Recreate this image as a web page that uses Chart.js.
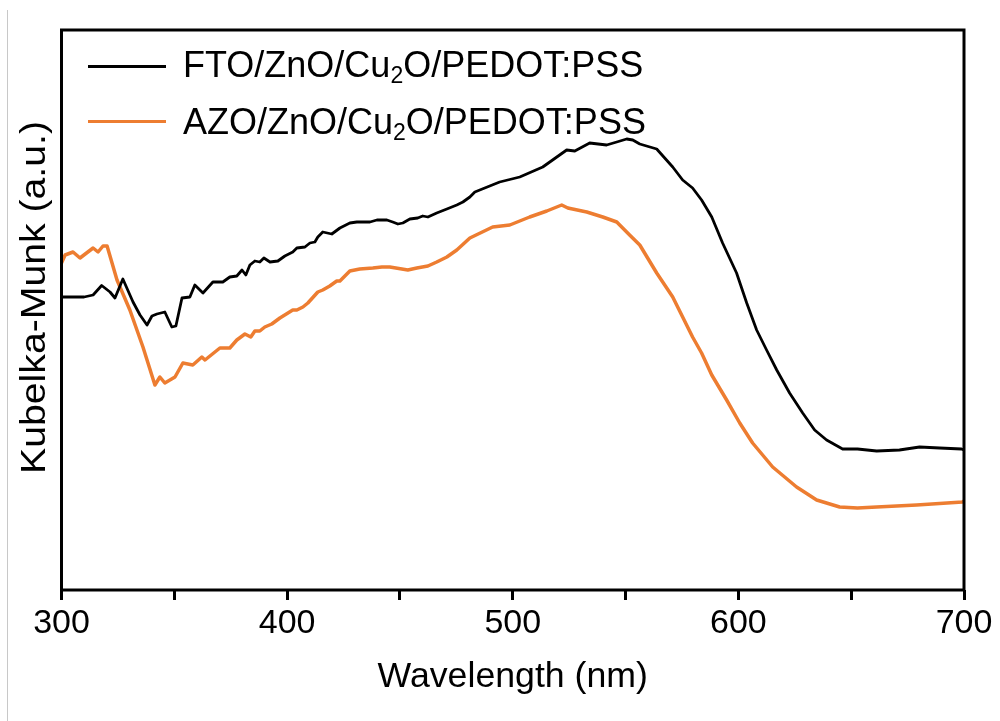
<!DOCTYPE html>
<html lang="en">
<head>
  <meta charset="UTF-8" />
  <title>Kubelka-Munk</title>
  <script src="https://cdn.jsdelivr.net/npm/chart.js"></script>
  <style>
    body { margin: 0; background: #fff; }
    #wrap { position: relative; width: 1000px; height: 721px; }
    #edge { position: absolute; left: 7px; top: 10px; bottom: 0; border-left: 1px solid #c8c8c8; }
    .leg { position: absolute; font: 36px "Liberation Sans", Arial, sans-serif; line-height: 40px; color: #000; white-space: nowrap; }
    .leg sub { font-size: 23px; vertical-align: -6px; line-height: 0; }
    .sw { position: absolute; height: 3px; width: 78px; left: 88px; }
  </style>
</head>
<body>
  <div id="wrap">
    <div id="edge"></div>
    <canvas id="chart" width="1000" height="721"></canvas>
    <div id="legend"></div>
  </div>

  <script>
    // wavelength (nm) and Kubelka-Munk (a.u.)
    const seriesLabels = ['FTO/ZnO/Cu₂O/PEDOT:PSS', 'AZO/ZnO/Cu₂O/PEDOT:PSS'];
    const seriesColors = ['#000000', '#ED7D31'];
    const yTitle = 'Kubelka-Munk (a.u.)';
    const xTitle = 'Wavelength (nm)';

    const wlFTO = [300, 305.1, 310, 314, 317.8, 321.5, 323.7, 327.2, 331.7, 334.8, 337.9, 340.1, 342.3, 345.8,
      348.9, 350.7, 353.4, 356.9, 359.1, 362.7, 367.1, 371.5, 374.6, 377.7, 380, 381.7, 383.5, 385.7, 387.9,
      389.7, 392.4, 395.9, 399, 402.5, 404.3, 407.9, 410.1, 412.3, 413.6, 415.8, 419.8, 423.4, 427.8, 430.9,
      436.7, 439.8, 444.2, 446.8, 449.1, 451.3, 454.4, 457.9, 460.1, 462.4, 466.3, 470.8, 475.2, 477.9, 481,
      483.2, 494.2, 503.1, 513.3, 523.9, 527.5, 534.1, 541.6, 546.1, 550.5, 553.2, 556.3, 563.8, 570.9, 575.3,
      579.7, 583.7, 588.2, 593, 599.2, 603.7, 608.1, 612.5, 617, 622.7, 628.5, 633.8, 639.1, 646.2, 652.8,
      661.3, 671.4, 680.3, 689.2, 698.9, 700];
    const kmFTO = [2.93, 2.93, 2.93, 2.95, 3.045, 2.98, 2.92, 3.11, 2.88, 2.75, 2.65, 2.74, 2.76, 2.78,
      2.63, 2.64, 2.92, 2.93, 3.05, 2.97, 3.08, 3.08, 3.13, 3.14, 3.20, 3.15, 3.25, 3.29, 3.28,
      3.32, 3.28, 3.29, 3.34, 3.38, 3.42, 3.43, 3.47, 3.48, 3.53, 3.58, 3.56, 3.62, 3.67, 3.68,
      3.68, 3.70, 3.70, 3.68, 3.66, 3.67, 3.71, 3.72, 3.74, 3.73, 3.77, 3.81, 3.85, 3.88, 3.93,
      3.98, 4.08, 4.13, 4.23, 4.40, 4.39, 4.47, 4.45, 4.48, 4.51, 4.50, 4.46, 4.41, 4.23, 4.10,
      4.02, 3.90, 3.73, 3.47, 3.17, 2.87, 2.60, 2.40, 2.20, 1.97, 1.77, 1.60, 1.50, 1.41, 1.41,
      1.39, 1.40, 1.43, 1.42, 1.41, 1.40];

    const wlAZO = [300, 301.6, 305.1, 308.2, 314, 316.2, 318.4, 320.2, 324.6, 330.3, 336.1, 341.4, 343.6, 345.8,
      350.3, 353.8, 358.2, 362.2, 363.6, 370.2, 374.6, 377.7, 381.3, 383.9, 385.7, 387.9, 390.1, 393.2, 396.8,
      402.5, 404.3, 407, 409.2, 413.6, 415.8, 418.9, 422, 423.4, 427.8, 432.2, 438, 442, 445.5, 453.5, 457.5,
      462.4, 466.3, 470.8, 475.2, 481, 491.1, 498.7, 507.5, 515.1, 521.7, 524.4, 532.8, 539.9, 546.1, 551.8,
      556.3, 563.8, 570.9, 575.3, 579.7, 583.7, 588.2, 594.8, 600.6, 606.3, 615.2, 625.8, 634.7, 644.9, 652.8,
      661.3, 679, 699.3, 700];
    const kmAZO = [3.27, 3.35, 3.38, 3.32, 3.42, 3.38, 3.44, 3.44, 3.10, 2.80, 2.43, 2.05, 2.13, 2.07,
      2.13, 2.27, 2.25, 2.33, 2.30, 2.42, 2.42, 2.50, 2.56, 2.53, 2.59, 2.59, 2.63, 2.66, 2.72,
      2.80, 2.80, 2.83, 2.87, 2.98, 3.00, 3.04, 3.09, 3.09, 3.19, 3.21, 3.22, 3.23, 3.23, 3.20, 3.22,
      3.24, 3.28, 3.33, 3.40, 3.52, 3.63, 3.65, 3.73, 3.79, 3.85, 3.82, 3.78, 3.73, 3.68, 3.55,
      3.45, 3.17, 2.93, 2.73, 2.53, 2.37, 2.15, 1.90, 1.67, 1.47, 1.23, 1.03, 0.90, 0.83, 0.82,
      0.83, 0.85, 0.88, 0.89];

    const xTicks = [300, 400, 500, 600, 700];

    const FONT = '"Liberation Sans", Arial, sans-serif';

    function toPoints(xs, ys) {
      return xs.map((x, i) => ({ x: x, y: ys[i] }));
    }

    // legend inside the plot, built from the labels
    const legendEl = document.getElementById('legend');
    legendEl.innerHTML = seriesLabels.map((lab, i) => {
      const lineTop = i === 0 ? 65 : 120;
      const textTop = i === 0 ? 45 : 102;
      return `<div class="sw" style="top:${lineTop}px;background:${seriesColors[i]}"></div>` +
        `<div class="leg" style="left:183px;top:${textTop}px">${lab.replace('₂', '<sub>2</sub>')}</div>`;
    }).join('');

    // box round the plot + y title (it is a little stretched in the original)
    const framePlugin = {
      id: 'frame',
      afterDraw(chart) {
        const { ctx, chartArea: a } = chart;
        ctx.save();
        ctx.strokeStyle = '#000';
        ctx.lineWidth = 3;
        ctx.strokeRect(a.left, a.top, a.right - a.left, a.bottom - a.top);
        ctx.translate(45, 297.5);
        ctx.rotate(-Math.PI / 2);
        ctx.scale(1.12, 1);
        ctx.fillStyle = '#000';
        ctx.font = '35px ' + FONT;
        ctx.textAlign = 'center';
        ctx.textBaseline = 'alphabetic';
        ctx.fillText(yTitle, 0, 0);
        ctx.restore();
      }
    };

    new Chart(document.getElementById('chart'), {
      type: 'line',
      data: {
        datasets: [
          { label: seriesLabels[0], data: toPoints(wlFTO, kmFTO), borderColor: seriesColors[0], borderWidth: 2.8 },
          { label: seriesLabels[1], data: toPoints(wlAZO, kmAZO), borderColor: seriesColors[1], borderWidth: 3.5 }
        ]
      },
      options: {
        responsive: false,
        animation: false,
        layout: { padding: { left: 0, top: 30, right: 36, bottom: 0 } },
        elements: {
          point: { radius: 0 },
          line: { tension: 0, borderJoinStyle: 'round', fill: false }
        },
        plugins: { legend: { display: false }, tooltip: { enabled: false } },
        scales: {
          x: {
            type: 'linear',
            min: 300,
            max: 700,
            afterFit: s => { s.height = 131; },
            border: { display: false },
            grid: { drawOnChartArea: false, drawTicks: true, tickLength: 10, lineWidth: 3, color: '#000' },
            ticks: {
              stepSize: 50,
              autoSkip: false,
              maxRotation: 0,
              padding: 3,
              color: '#000',
              font: { family: FONT, size: 34 },
              callback: v => xTicks.includes(v) ? v : ''
            },
            title: {
              display: true,
              text: xTitle,
              color: '#000',
              font: { family: FONT, size: 35.7 },
              padding: { top: 0, bottom: 22 }
            }
          },
          y: {
            min: 0,
            max: 5.6,
            afterFit: s => { s.width = 61.5; },
            border: { display: false },
            grid: { display: false },
            ticks: { display: false },
            title: { display: false }
          }
        }
      },
      plugins: [framePlugin]
    });
  </script>
</body>
</html>
